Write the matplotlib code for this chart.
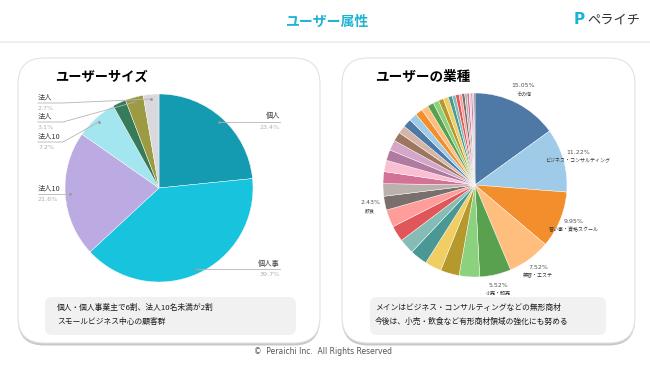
import numpy as np
import matplotlib
matplotlib.use("Agg")
import matplotlib.pyplot as plt
from matplotlib.patches import FancyBboxPatch

plt.rcParams['font.family'] = ['Noto Sans CJK JP', 'DejaVu Sans']

W, H = 650, 366

# user size (left pie), clockwise from 12 o'clock
size_labels = ['個人', '個人事', '法人10', '法人10', '', '法人', '法人']
size_values = [23.4, 39.7, 21.6, 7.2, 2.3, 3.1, 2.7]
size_colors = ['#149bb2', '#17c3dd', '#bcaae2', '#a3e6f0', '#367b5a', '#9c9b43', '#d9d9dd']

# industry (right pie), clockwise from 12 o'clock
ind_values = [15.05, 11.22, 9.95, 7.52, 5.52, 3.6, 3.3, 2.9, 3.05, 2.7, 2.8, 3.1, 2.43,
              2.2, 2.1, 2.0, 1.9, 1.8, 1.6, 1.4,
              1.5, 1.4, 1.3, 1.2, 1.1, 1.0, 0.9, 0.9, 0.7, 0.6, 0.6, 0.5, 0.5,
              0.4, 0.4, 0.3, 0.3, 0.2, 0.2]
ind_labels = ['その他', 'ビジネス・コンサルティング', '習い事・資格スクール', '美容・エステ',
              '小売・卸売'] + [''] * 7 + ['飲食'] + [''] * 26
tab20 = ['#4e79a7', '#a0cbe8', '#f28e2b', '#ffbe7d', '#59a14f', '#8cd17d', '#b6992d',
         '#f1ce63', '#499894', '#86bcb6', '#e15759', '#ff9d9a', '#79706e', '#bab0ac',
         '#d37295', '#fabfd2', '#b07aa1', '#d4a6c8', '#9d7660', '#d7b5a6']
ind_colors = [tab20[i % 20] for i in range(len(ind_values))]

left_note = ['個人・個人事業主で6割、法人10名未満が2割', 'スモールビジネス中心の顧客群']
right_note = ['メインはビジネス・コンサルティングなどの無形商材', '今後は、小売・飲食など有形商材領域の強化にも努める']


def Y(y):
    # pixel row (from top) -> axes y
    return H - y


fig = plt.figure(figsize=(6.5, 3.66), dpi=100)
ax = fig.add_axes([0, 0, 1, 1])

# header
ax.text(327, Y(22), 'ユーザー属性', color='#1fb3d3', fontsize=10, fontweight='bold',
        ha='center', va='center')
ax.text(579, Y(20), 'P', color='#18b4d8', fontsize=11, fontweight='bold', ha='center', va='center',
        family='DejaVu Sans')
ax.text(587, Y(20), 'ペライチ', color='#333333', fontsize=9.5, ha='left', va='center')
ax.plot([0, W], [Y(42), Y(42)], color='#ececec', lw=1.2)


def card(x0, x1, y0, y1):
    sh = FancyBboxPatch((x0, Y(y1) - 2.5), x1 - x0, y1 - y0,
                        boxstyle='round,pad=0,rounding_size=26',
                        fc='#b5b5b5', ec='none', alpha=0.75, zorder=1)
    ax.add_patch(sh)
    c = FancyBboxPatch((x0, Y(y1)), x1 - x0, y1 - y0,
                       boxstyle='round,pad=0,rounding_size=26',
                       fc='white', ec='#e2e2e2', lw=0.8, zorder=2)
    ax.add_patch(c)


def note(x0, x1, y0, y1, lines, tx):
    b = FancyBboxPatch((x0, Y(y1)), x1 - x0, y1 - y0,
                       boxstyle='round,pad=0,rounding_size=7',
                       fc='#f1f1f1', ec='none', zorder=3)
    ax.add_patch(b)
    for i, s in enumerate(lines):
        ax.text(tx, Y(308 + 14 * i), s, fontsize=5.6, color='#1a1a1a',
                ha='left', va='center', zorder=4)


card(18, 320, 58, 343)
card(342, 635, 58, 343)
note(45, 296, 297, 335, left_note, 57)
note(370, 606, 297, 335, right_note, 375)

ax.text(55, Y(77), 'ユーザーサイズ', fontsize=9.5, fontweight='bold', color='black',
        ha='left', va='center', zorder=4)
ax.text(375, Y(77), 'ユーザーの業種', fontsize=9.8, fontweight='bold', color='black',
        ha='left', va='center', zorder=4)

# left pie
lc = (159, Y(188))
lr = 94
wl, _ = ax.pie(size_values, colors=size_colors, startangle=90, counterclock=False,
               center=lc, radius=lr, frame=True,
               wedgeprops=dict(linewidth=0.3, edgecolor='white'))
for w in wl:
    w.set_zorder(5)

left_rows = {3: 142, 5: 122, 6: 103}
for i, (lab, v) in enumerate(zip(size_labels, size_values)):
    if not lab:
        continue
    w = wl[i]
    a = np.deg2rad((w.theta1 + w.theta2) / 2)
    px = lc[0] + 0.95 * lr * np.cos(a)
    py = lc[1] + 0.95 * lr * np.sin(a)
    if px > lc[0]:
        xs, ys = [px, 280], [py, py]
        tx, ha, ly = 280, 'right', py
    elif i in left_rows:
        ly = Y(left_rows[i])
        xs, ys = [px, 63, 38], [py, ly, ly]
        tx, ha = 38, 'left'
    else:
        ly = py
        xs, ys = [px, 38], [py, py]
        tx, ha = 38, 'left'
    ax.plot(xs, ys, color='#b5b5b5', lw=0.6, zorder=6)
    ax.plot([px], [py], marker='o', ms=1, color='#999999', zorder=6)
    ax.text(tx, ly + 5.5, lab, fontsize=5.2, color='#3a3a3a', ha=ha, va='center', zorder=6)
    ax.text(tx, ly - 5.5, f'{v:.1f}%', fontsize=4.6, color='#b0b0b0', ha=ha, va='center',
            zorder=6, family='DejaVu Sans')

# right pie
rc = (475, Y(185))
rr = 92
wr, _ = ax.pie(ind_values, colors=ind_colors, startangle=90, counterclock=False,
               center=rc, radius=rr, frame=True,
               wedgeprops=dict(linewidth=0.3, edgecolor='white'))
for w in wr:
    w.set_zorder(5)

for w, lab, v in zip(wr, ind_labels, ind_values):
    if not lab:
        continue
    a = np.deg2rad((w.theta1 + w.theta2) / 2)
    tx = rc[0] + 1.16 * rr * np.cos(a)
    ty = rc[1] + 1.16 * rr * np.sin(a)
    ax.text(tx, ty + 4, f'{v:.2f}%', fontsize=4.5, color='#555555', ha='center', va='center',
            zorder=6, family='DejaVu Sans')
    ax.text(tx, ty - 4.5, lab, fontsize=3.6, color='#333333', ha='center', va='center', zorder=6)

ax.text(323, Y(351), '©  Peraichi Inc.  All Rights Reserved', fontsize=5.5, color='#555555',
        ha='center', va='center', family='DejaVu Sans')

ax.set_xlim(0, W)
ax.set_ylim(0, H)
ax.set_aspect('auto')
ax.axis('off')

fig.savefig('out.png', dpi=100, facecolor='white')
